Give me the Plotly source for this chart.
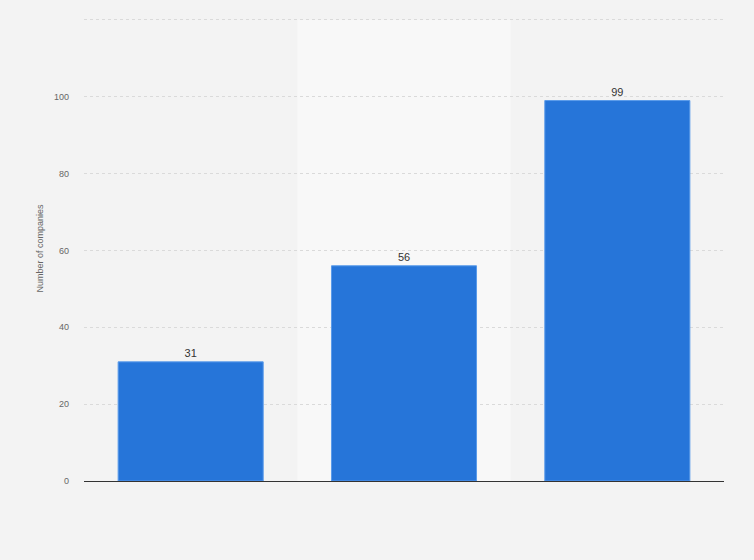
import plotly.graph_objects as go

categories = ["Category 1", "Category 2", "Category 3"]
values = [31, 56, 99]
y_ticks = [0, 20, 40, 60, 80, 100, 120]
y_tick_labels = ["0", "20", "40", "60", "80", "100", ""]

FONT = "Liberation Sans, Arial, sans-serif"

fig = go.Figure()
fig.add_trace(go.Bar(
    x=categories, y=values,
    marker=dict(color="#2675d9", line=dict(color="#5a9bea", width=1)),
    width=0.68,
    text=[str(v) for v in values], textposition="outside",
    textfont=dict(family=FONT, size=11, color="#333333"),
    cliponaxis=False,
))

# lighter band behind the middle category
fig.add_shape(type="rect", xref="x", yref="y", x0=0.5, x1=1.5, y0=0, y1=y_ticks[-1],
              fillcolor="#f8f8f8", line=dict(width=0), layer="below")

fig.update_layout(
    width=754, height=560,
    margin=dict(l=84, r=30, t=16, b=79),
    paper_bgcolor="#f3f3f3", plot_bgcolor="#f3f3f3",
    showlegend=False,
    font=dict(family=FONT, color="#666666"),
)
fig.update_xaxes(showticklabels=False, showgrid=False, showline=True,
                 linecolor="#333333", linewidth=1, ticks="", range=[-0.5, 2.5])
fig.update_yaxes(range=[0, 121], tickvals=y_ticks, ticktext=y_tick_labels,
                 showgrid=True, gridcolor="#dadada", griddash="dot", gridwidth=1,
                 zeroline=False, ticks="", tickfont=dict(size=9, color="#666666"),
                 ticklabelstandoff=14,
                 title=dict(text="Number of companies", font=dict(size=9, color="#666666"), standoff=8))

fig.write_html("out.html", config={"displayModeBar": False},
               post_script="document.body.style.margin='0';document.body.style.padding='0';")
